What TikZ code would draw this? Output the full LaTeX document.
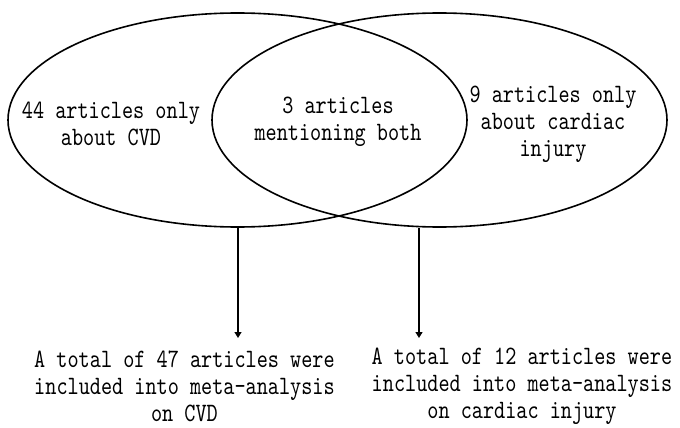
\documentclass[tikz,border=0pt]{standalone}
\usepackage{fontspec}
\usetikzlibrary{arrows.meta,positioning,shapes.geometric}
\newfontfamily\simfont{lmmono10-regular.otf}[FakeStretch=0.8]
\tikzset{
  venn/.style={ellipse,draw,line width=1.6pt,inner sep=0pt},
  lbl/.style={align=center,inner sep=0pt,font=\simfont\fontsize{26.5}{27}\selectfont},
  flow/.style={line width=1.2pt,-{Triangle[length=6pt,width=7pt]}}
}

\begin{document}
\begin{tikzpicture}[x=1pt,y=-1pt]
\useasboundingbox (0,0) rectangle (680,428);
% the two sets
\node[venn,minimum width=459pt,minimum height=214pt] (lset) at (237.5,120) {};
\node[venn,minimum width=455pt,minimum height=214pt] (rset) at (439.5,120) {};
% set labels
\node[lbl] (lonly) at (111,124) {44 articles only\\about CVD};
\node[lbl] (both)  at (338,122) {3 articles\\mentioning both};
\node[lbl] (ronly) at (553,124) {9 articles only\\about cardiac\\injury};
% totals
\node[lbl] (ltot) at (184.5,386) {A total of 47 articles were\\included into meta-analysis\\on CVD};
\node[lbl] (rtot) at (522,386) {A total of 12 articles were\\included into meta-analysis\\on cardiac injury};
\coordinate (ltip) at (238,338);
\coordinate (rtip) at (419,338);
\draw[flow] (ltip |- lset.south) -- (ltip);
\draw[flow] (rtip |- rset.south) -- (rtip);
\end{tikzpicture}
\end{document}
